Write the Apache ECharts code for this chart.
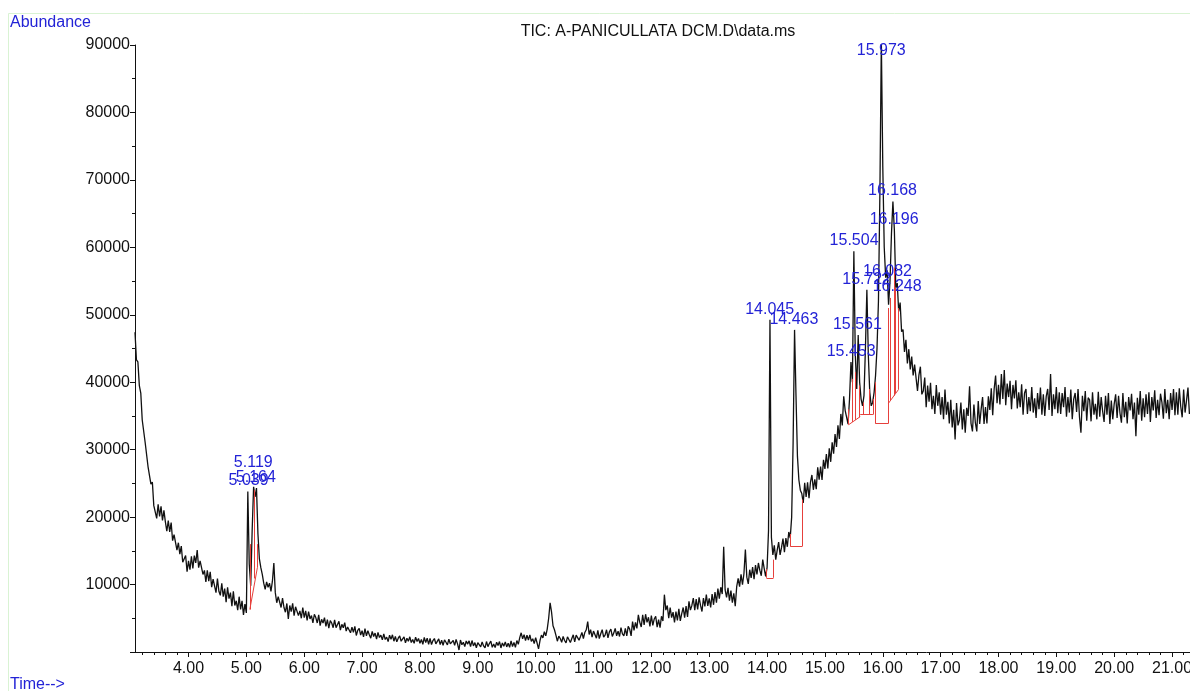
<!DOCTYPE html>
<html>
<head>
<meta charset="utf-8">
<title>TIC: A-PANICULLATA DCM.D\data.ms</title>
<script src="https://cdn.jsdelivr.net/npm/echarts@6.0.0/dist/echarts.min.js"></script>
<style>
  html, body { margin: 0; padding: 0; background: #fff; }
  #chart { width: 1190px; height: 691px; }
</style>
</head>
<body>
<div id="chart"></div>
<script>
// scan start / step, minutes
const startTime = 3.075
const timeStep = 0.025

// TIC abundance, one row = 0.5 min (row start time in the comment)
const abundance = [
  /* 3.075 */ 47400, 43300, 43000, 39500, 38400, 34400, 34300, 31100, 31100, 27500, 27500, 24900, 25200, 21700, 21900, 19800, 21900, 20100, 21600, 19500,
  /* 3.575 */ 21000, 19300, 17900, 19500, 17800, 19200, 16500, 17400, 17400, 15100, 16200, 14500, 15700, 13300, 13500, 14300, 11900, 13500, 12200, 14200,
  /* 4.075 */ 12400, 14300, 13200, 15100, 12500, 13500, 13700, 11500, 12100, 10400, 12100, 10500, 11900, 9600, 10800, 10800, 8800, 10900, 9000, 8400,
  /* 4.575 */ 10200, 8200, 9400, 7400, 9600, 7900, 8800, 6800, 9000, 6900, 7600, 6200, 8200, 6300, 7600, 5500, 7100, 5800, 23800, 13000,
  /* 5.075 */ 9800, 18000, 24500, 23000, 24300, 17500, 13800, 12500, 11500, 10200, 9300, 10400, 9600, 10200, 9000, 10500, 13200, 8800, 7300, 8200,
  /* 5.575 */ 8000, 6600, 8000, 6600, 5900, 7200, 4900, 6900, 6000, 7200, 5400, 6700, 6800, 5400, 6100, 5000, 6600, 5100, 6100, 4700,
  /* 6.075 */ 6000, 4900, 5400, 4300, 5600, 5100, 4300, 5500, 3900, 4850, 4300, 5100, 3800, 4800, 3550, 4650, 4300, 3600, 4750, 3600,
  /* 6.575 */ 3750, 4550, 3250, 4100, 3600, 4350, 3100, 3700, 3900, 2850, 3700, 2900, 3800, 2450, 3200, 3500, 2500, 3150, 2250, 3450,
  /* 7.075 */ 2400, 3150, 2550, 2050, 3050, 2300, 2800, 1900, 2900, 2150, 2500, 1800, 2700, 1850, 2200, 1550, 2500, 1900, 2550, 1600,
  /* 7.575 */ 2300, 1500, 2050, 2400, 1600, 1750, 2250, 1350, 2050, 1600, 2250, 1400, 1850, 1300, 2200, 1550, 2000, 1300, 1850, 1150,
  /* 8.075 */ 2150, 1400, 2050, 1150, 2000, 1100, 1700, 2000, 1200, 1400, 1950, 1100, 1750, 1000, 1800, 1450, 1050, 1900, 1200, 950,
  /* 8.575 */ 1700, 980, 1850, 1200, 300, 1780, 1080, 1450, 800, 1630, 1170, 1650, 800, 1700, 900, 1400, 630, 1380, 1570, 760,
  /* 9.075 */ 1500, 900, 600, 1550, 800, 1250, 1600, 700, 1200, 650, 1450, 950, 1550, 600, 1350, 850, 1500, 750, 1300, 700,
  /* 9.575 */ 1650, 820, 1420, 700, 1690, 1140, 2130, 2850, 1960, 2580, 1700, 2490, 1780, 2550, 1570, 1970, 1250, 2140, 1330, 450,
  /* 10.075 */ 1700, 2500, 2100, 3000, 2400, 3400, 5000, 7300, 5900, 3900, 3300, 2500, 1600, 2350, 2000, 1450, 2300, 1700, 1350, 2250,
  /* 10.575 */ 2400, 1400, 2000, 2550, 1500, 2500, 2700, 1750, 2300, 2900, 2000, 2900, 3300, 4500, 2600, 3300, 2200, 3100, 2900, 2050,
  /* 11.075 */ 3200, 2000, 2700, 3300, 2200, 2500, 3300, 2100, 3000, 3400, 2300, 2800, 3500, 2400, 3100, 2300, 3600, 2700, 2400, 3500,
  /* 11.575 */ 2400, 3800, 3400, 2400, 4500, 3200, 4400, 3500, 5500, 4400, 3700, 5500, 4000, 5600, 4400, 5150, 3800, 5400, 3950, 4900,
  /* 12.075 */ 5300, 3700, 4800, 3600, 5300, 4600, 8500, 6200, 6900, 5000, 6600, 5100, 5900, 4400, 6000, 4700, 6400, 4600, 5700, 6600,
  /* 12.575 */ 5100, 6800, 5200, 7500, 6200, 6900, 8000, 6200, 7850, 6300, 8100, 6900, 6000, 8000, 6750, 8500, 6850, 7950, 6600, 8600,
  /* 13.075 */ 7000, 8900, 7300, 9400, 7900, 9600, 8600, 15600, 9200, 8100, 9500, 7600, 9100, 7300, 8700, 6800, 9700, 10900, 9700, 11500,
  /* 13.575 */ 10000, 11600, 15200, 11100, 10100, 12200, 11000, 12600, 10800, 12900, 11500, 13200, 12100, 11300, 13700, 12400, 11200, 12500, 18000, 49250,
  /* 14.075 */ 17000, 14400, 15800, 13700, 15100, 16300, 14400, 15500, 16800, 14800, 16900, 15600, 17800, 16900, 20000, 31000, 47760, 38000, 29000, 25500,
  /* 14.575 */ 24000, 23500, 22100, 25100, 23000, 25150, 22800, 25200, 26250, 24050, 25600, 24150, 27400, 25550, 27500, 25500, 28500, 27150, 29350, 27200,
  /* 15.075 */ 30200, 28200, 31100, 29400, 32300, 30400, 33600, 31600, 35300, 33600, 37900, 35800, 35800, 33800, 37500, 43000, 40000, 59400, 44000, 39000,
  /* 15.575 */ 47000, 40000, 37500, 36500, 38000, 45000, 53700, 44000, 38500, 36500, 37000, 38500, 41000, 45000, 52000, 68000, 90600, 72000, 60000, 55500,
  /* 16.075 */ 56600, 51500, 55000, 62000, 66800, 62600, 54000, 54700, 50500, 51800, 47500, 47800, 44500, 46300, 42800, 44900, 41900, 43800, 41000, 42600,
  /* 16.575 */ 42800, 38700, 41100, 42300, 38200, 38700, 40700, 36300, 39500, 37100, 39900, 36000, 38000, 35300, 39600, 36500, 38500, 35200, 37800, 34500,
  /* 17.075 */ 38900, 35200, 37100, 33900, 37400, 33300, 35900, 31500, 36900, 33600, 34400, 37000, 33000, 36000, 32500, 36200, 35000, 39400, 33900, 32700,
  /* 17.575 */ 36700, 34000, 32700, 37200, 33800, 36000, 37800, 33800, 36300, 33900, 37900, 35900, 39100, 35100, 39000, 41000, 36900, 39600, 36700, 41200,
  /* 18.075 */ 37500, 41800, 36600, 39800, 37800, 40200, 36000, 39600, 37600, 40300, 36100, 38500, 36300, 39700, 35200, 38400, 39000, 35300, 37800, 35700,
  /* 18.575 */ 39300, 35500, 37600, 34700, 38400, 36000, 39200, 35200, 38200, 35000, 37900, 39000, 35900, 41200, 35000, 38200, 36000, 39300, 35400, 38500,
  /* 19.075 */ 35300, 38400, 36300, 39300, 34900, 37800, 35500, 38900, 34500, 37500, 38400, 35600, 39000, 34800, 32500, 38000, 35700, 38700, 34300, 37700,
  /* 19.575 */ 37400, 34200, 38500, 35200, 36800, 34500, 38600, 34900, 37800, 35700, 34100, 38000, 35200, 38400, 33800, 37300, 34500, 36800, 38200, 34700,
  /* 20.075 */ 38000, 35400, 34000, 38400, 34800, 37100, 33900, 37800, 35800, 38300, 34500, 37000, 32000, 37700, 35200, 38700, 34300, 37600, 34800, 38200,
  /* 20.575 */ 35300, 38500, 34100, 37800, 35800, 38800, 34700, 37400, 35100, 38300, 37000, 34600, 39000, 35400, 37400, 34500, 38400, 35900, 39000, 35100,
  /* 21.075 */ 38500, 35200, 39100, 36400, 34800, 38900, 35500, 37300, 39200, 35300
]

// x axis labels
const timeTicks = [4, 5, 6, 7, 8, 9, 10, 11, 12, 13, 14, 15, 16, 17, 18, 19, 20, 21]

// integrated peaks: retention time and apex abundance
const peakTimes = [5.039, 5.119, 5.164, 14.045, 14.463, 15.453, 15.504, 15.561, 15.722, 15.973, 16.082, 16.168, 16.196, 16.248]
const peakApex = [23800, 24500, 24300, 49250, 47760, 43000, 59400, 47000, 53700, 90600, 56600, 66800, 62600, 54700]

// integration baselines / drop lines [t1, v1, t2, v2]
const redSegments = [
  [5.06, 6300, 5.19, 12500], [5.06, 6300, 5.06, 16000], [5.14, 10900, 5.14, 24000], [5.19, 12500, 5.19, 16000],
  [13.99, 11000, 13.99, 12300], [13.99, 11000, 14.11, 11000], [14.11, 11000, 14.11, 13700],
  [14.40, 15670, 14.40, 17500], [14.40, 15670, 14.61, 15670], [14.61, 15670, 14.61, 22600],
  [15.41, 33700, 15.61, 34900], [15.41, 33700, 15.41, 36000], [15.48, 34100, 15.48, 40500],
  [15.53, 34400, 15.53, 41500], [15.59, 34800, 15.59, 39500],
  [15.61, 35200, 15.83, 35200], [15.66, 35200, 15.66, 37000], [15.77, 35200, 15.77, 39000], [15.83, 35200, 15.83, 37500],
  [15.87, 33900, 16.10, 33900], [15.87, 33900, 15.87, 40000], [16.10, 33900, 16.10, 37000],
  [16.10, 36900, 16.27, 38900], [16.10, 36900, 16.10, 51000], [16.13, 37300, 16.13, 52500],
  [16.19, 38000, 16.19, 57000], [16.22, 38400, 16.22, 54000], [16.27, 38900, 16.27, 51000]
]

// label nudges where the labels were pushed apart (px)
const labelNudge = [0, -14, 0, 0, 0, 0, 0, 0, 0, 20, 12, 0, 0, 14]

const font = 'Liberation Sans, Arial, Helvetica, sans-serif'
const blue = '#2323d6'

let minorTimeTicks = []
for (let i = 16; i <= 106; i++) {
  if (i % 5) minorTimeTicks.push(i / 5)
}

let trace = abundance.map((v, i) => [startTime + i * timeStep, v])

let option = {
  animation: false,
  backgroundColor: '#fff',
  grid: { left: 135, right: 0, top: 45, bottom: 39, containLabel: false, outerBoundsMode: 'none' },
  xAxis: [
    {
      type: 'value', min: 3.075, max: 21.31,
      axisLine: { show: true, lineStyle: { color: '#111', width: 1 } },
      axisTick: { show: true, customValues: timeTicks, length: 5, lineStyle: { color: '#111' } },
      axisLabel: {
        customValues: timeTicks, margin: 9, color: '#111', fontSize: 16, fontFamily: font,
        formatter: v => v.toFixed(2)
      },
      splitLine: { show: false }
    },
    {
      type: 'value', min: 3.075, max: 21.31, position: 'bottom',
      axisLine: { show: false },
      axisTick: { show: true, customValues: minorTimeTicks, length: 3, lineStyle: { color: '#111' } },
      axisLabel: { show: false },
      splitLine: { show: false }
    }
  ],
  yAxis: {
    type: 'value', min: 0, max: 90000, interval: 10000,
    axisLine: { show: true, lineStyle: { color: '#111', width: 1 } },
    axisTick: { show: true, length: 5, lineStyle: { color: '#111' } },
    minorTick: { show: true, splitNumber: 2, length: 3, lineStyle: { color: '#111' } },
    axisLabel: {
      margin: 5, color: '#111', fontSize: 16, fontFamily: font,
      formatter: v => (v === 0 ? '' : String(v))
    },
    splitLine: { show: false }
  },
  series: [
    {
      type: 'line',
      data: trace,
      symbol: 'none',
      lineStyle: { color: '#111', width: 1.3 },
      z: 2
    },
    {
      type: 'lines',
      coordinateSystem: 'cartesian2d',
      data: redSegments.map(s => ({ coords: [[s[0], s[1]], [s[2], s[3]]] })),
      lineStyle: { color: '#e6403c', width: 1, opacity: 1 },
      silent: true,
      z: 3
    },
    {
      type: 'scatter',
      clip: false,
      symbol: 'circle',
      symbolSize: 1,
      itemStyle: { color: 'rgba(0,0,0,0)', opacity: 1 },
      data: peakTimes.map((t, i) => [t, peakApex[i]]),
      label: {
        show: true, position: 'top', distance: 2,
        color: blue, fontSize: 16, fontFamily: font,
        formatter: p => peakTimes[p.dataIndex].toFixed(3)
      },
      labelLayout: function (params) {
        return { dy: labelNudge[params.dataIndex], hideOverlap: false }
      },
      z: 4
    }
  ],
  graphic: [
    { type: 'line', shape: { x1: 8.5, y1: 13.5, x2: 1190, y2: 13.5 }, style: { stroke: '#d9f3d3', lineWidth: 1 }, silent: true },
    { type: 'line', shape: { x1: 8.5, y1: 13.5, x2: 8.5, y2: 691 }, style: { stroke: '#d9f3d3', lineWidth: 1 }, silent: true },
    { type: 'text', left: 10, top: 15, style: { text: 'Abundance', fill: blue, font: '16px ' + font } },
    { type: 'text', left: 10, top: 677, style: { text: 'Time-->', fill: blue, font: '16px ' + font } },
    { type: 'text', x: 658, y: 32, style: { text: 'TIC: A-PANICULLATA DCM.D\\data.ms', fill: '#111', font: '16px ' + font, textAlign: 'center', textVerticalAlign: 'middle' } }
  ]
}

let myChart = echarts.init(document.getElementById('chart'))
myChart.setOption(option)
window.addEventListener('resize', function () {
  myChart.resize()
})
</script>
</body>
</html>
